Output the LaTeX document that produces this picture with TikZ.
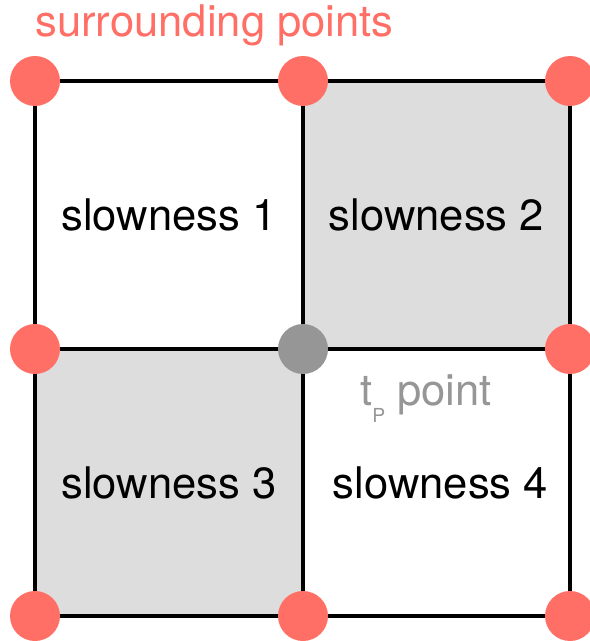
\documentclass[tikz,border=0pt]{standalone}
\usepackage{fontspec}
\setmainfont{TeX Gyre Heros}
\usetikzlibrary{calc, positioning}
\definecolor{salmon}{HTML}{FF6F66}
\definecolor{cellgray}{HTML}{DDDDDD}
\definecolor{pointgray}{HTML}{969696}

\begin{document}
\begin{tikzpicture}[x=0.02cm, y=-0.02cm,
    font=\fontsize{24.8}{28}\selectfont]
  \useasboundingbox (0,0) rectangle (589,641);
  % --- grid corners ---
  \foreach \i/\x in {0/35,1/303,2/570}
    \foreach \j/\y in {0/81,1/349,2/616}
      \coordinate (g\i\j) at (\x,\y);
  % --- shaded cells ---
  \fill[cellgray] (g10) rectangle (g21);
  \fill[cellgray] (g01) rectangle (g12);
  % --- grid lines ---
  \draw[line width=2.2pt] (g00) rectangle (g22);
  \draw[line width=2.2pt] (g10) -- (g12);
  \draw[line width=2.2pt] (g01) -- (g21);
  % --- cell labels ---
  \node (S1) at ($(g00)!0.5!(g11)$) {slowness 1};
  \node (S2) at ($(g10)!0.5!(g21)$) {slowness 2};
  \node (S3) at ($(g01)!0.5!(g12)$) {slowness 3};
  \node (S4) at ($(g11)!0.5!(g22)+(4,0)$) {slowness 4};
  % --- surrounding points ---
  \foreach \i/\j in {0/0,1/0,2/0,0/1,2/1,0/2,1/2,2/2}
    \node[circle, fill=salmon, inner sep=0pt, minimum size=1cm] (P\i\j) at (g\i\j) {};
  \node[circle, fill=pointgray, inner sep=0pt, minimum size=1cm] (T) at (g11) {};
  \node[anchor=base west, inner sep=0pt, text=salmon] (L) at (35,37) {surrounding points};
  \node[anchor=base west, inner sep=0pt, text=pointgray] (TL) at (360,405)
    {t\raisebox{-0.4em}{\fontsize{11}{11}\selectfont P} point};
\end{tikzpicture}
\end{document}
